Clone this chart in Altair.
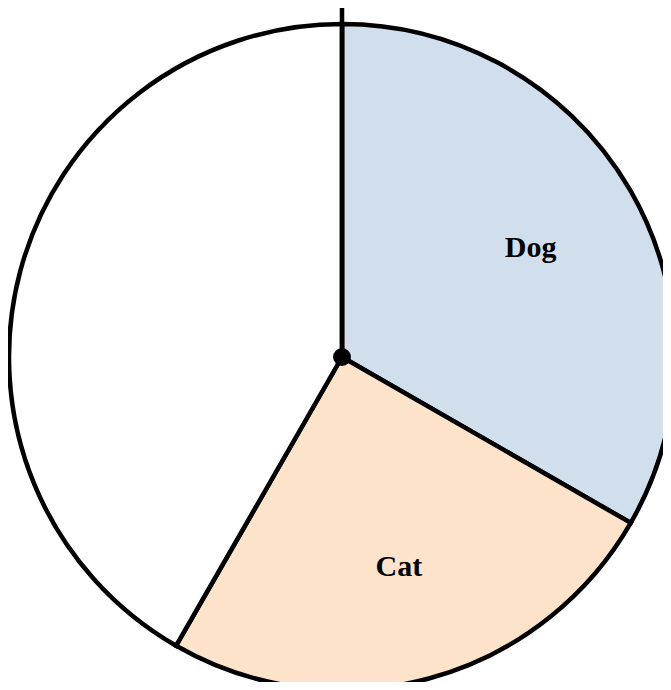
import altair as alt
import pandas as pd

categories = ["Dog", "Cat", "Other"]
values = [33.3, 25.0, 41.7]
labels = ["Dog", "Cat", ""]
order_idx = [0, 1, 2]
colors = ["#d1dfec", "#fce3c9", "#ffffff"]

df = pd.DataFrame({"category": categories, "value": values, "label": labels, "idx": order_idx})

CX, CY, R = 334, 349, 333

base = alt.Chart(df).encode(
    theta=alt.Theta("value:Q", stack=True),
    order=alt.Order("idx:Q"),
)

arcs = base.mark_arc(radius=R, stroke="black", strokeWidth=4.5).encode(
    color=alt.Color("category:N", scale=alt.Scale(domain=categories, range=colors), legend=None),
    x=alt.value(CX),
    y=alt.value(CY),
)

text = base.mark_text(
    radius=218, font="Liberation Serif", fontWeight="bold", fontSize=30,
    color="black", baseline="middle", align="center"
).encode(
    text="label:N",
    x=alt.value(CX),
    y=alt.value(CY),
)

one = pd.DataFrame({"a": [0]})
rule = alt.Chart(one).mark_rule(color="black", strokeWidth=4.5).encode(
    x=alt.value(CX), y=alt.value(0), y2=alt.value(CY)
)
dot = alt.Chart(one).mark_circle(color="black", opacity=1).encode(
    x=alt.value(CX), y=alt.value(CY), size=alt.value(320)
)

chart = alt.layer(arcs, rule, dot, text).properties(
    width=655, height=674, padding=0, autosize=alt.AutoSizeParams(type="none"),
    background="white"
).configure_view(stroke=None)

chart.save("out.html", embed_options={"renderer": "svg", "actions": False})
